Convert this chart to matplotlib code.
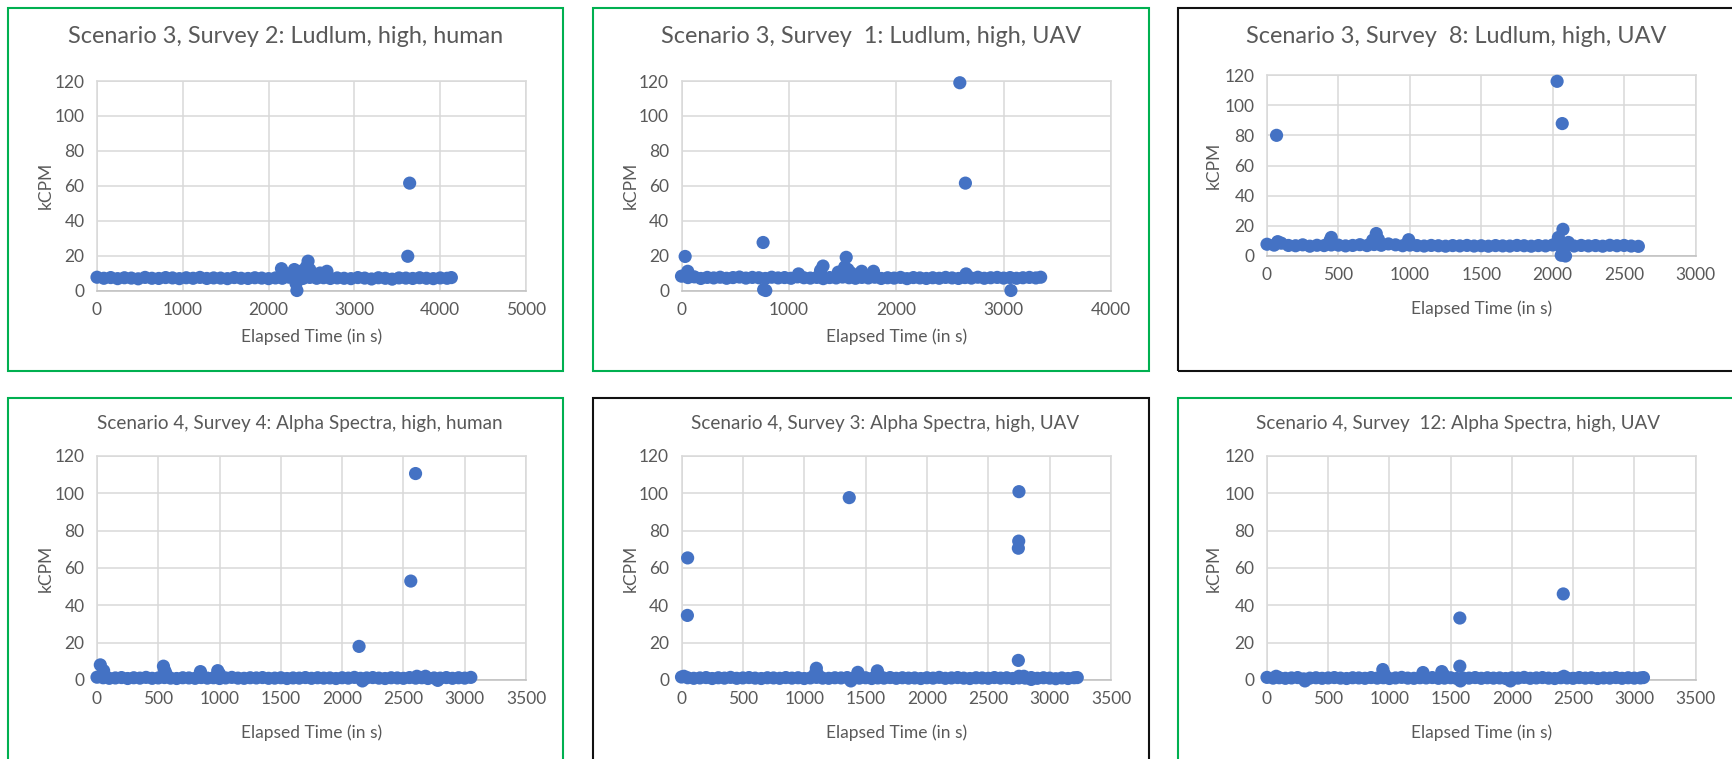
import matplotlib
matplotlib.use("Agg")
import matplotlib.pyplot as plt
from matplotlib.patches import Rectangle

# figure size in pixels
W, H = 1732, 759

plt.rcParams['font.family'] = ['Lato', 'DejaVu Sans']
TEXT = '#595959'
GRID = '#D9D9D9'
BLUE = '#4472C4'

# ---------------- data (elapsed time in s, kCPM) ----------------
titles = [
    'Scenario 3, Survey 2: Ludlum, high, human',
    'Scenario 3, Survey  1: Ludlum, high, UAV',
    'Scenario 3, Survey  8: Ludlum, high, UAV',
    'Scenario 4, Survey 4: Alpha Spectra, high, human',
    'Scenario 4, Survey 3: Alpha Spectra, high, UAV',
    'Scenario 4, Survey  12: Alpha Spectra, high, UAV',
]
x_max = [5000, 4000, 3000, 3500, 3500, 3500]
x_step = [1000, 1000, 500, 500, 500, 500]

# panel 1: Ludlum, human
p1_base_x = [0, 80, 160, 240, 320, 400, 480, 560, 640, 720, 800, 880, 960, 1040,
             1120, 1200, 1280, 1360, 1440, 1520, 1600, 1680, 1760, 1840, 1920, 2000,
             2080, 2160, 2240, 2320, 2400, 2480, 2560, 2640, 2720, 2800, 2880, 2960,
             3040, 3120, 3200, 3280, 3360, 3440, 3520, 3600, 3680, 3760, 3840, 3920,
             4000, 4080, 4130]
p1_base_y = [7.6, 7.0, 7.4, 6.8, 7.3, 7.1, 6.7, 7.5, 7.0, 6.9,
             7.4, 7.2, 6.8, 7.3, 7.0, 7.5, 6.9, 7.2, 7.1, 6.8,
             7.4, 7.0, 6.9, 7.3, 7.1, 6.8, 7.2, 7.0, 7.6, 7.2,
             6.9, 7.5, 7.0, 7.3, 6.9, 7.2, 7.0, 6.8, 7.4, 7.1,
             6.6, 7.3, 7.0, 6.5, 7.2, 7.1, 6.9, 7.3, 7.0, 6.8,
             7.2, 7.0, 7.4]
p1_peak_x = [2150, 2190, 2230, 2300, 2320, 2330, 2360, 2400, 2440, 2460, 2480, 2520,
             2600, 2680, 3622, 3644]
p1_peak_y = [12.5, 10.0, 9.0, 12.0, 4.0, 0.0, 9.5, 11.5, 13.5, 16.8, 12.0, 9.5,
             10.0, 11.0, 19.6, 61.5]

# panel 2: Ludlum, UAV survey 1
p2_base_x = [0, 60, 120, 180, 240, 300, 360, 420, 480, 540, 600, 660, 720, 780, 840,
             900, 960, 1020, 1080, 1140, 1200, 1260, 1320, 1380, 1440, 1500, 1560,
             1620, 1680, 1740, 1800, 1860, 1920, 1980, 2040, 2100, 2160, 2220, 2280,
             2340, 2400, 2460, 2520, 2580, 2640, 2700, 2760, 2820, 2880, 2940, 3000,
             3060, 3120, 3180, 3240, 3300, 3345]
p2_base_y = [8.2, 7.4, 7.8, 6.9, 7.5, 7.2, 7.6, 7.0, 7.4, 7.7,
             7.1, 7.5, 7.3, 6.9, 7.6, 7.2, 7.4, 7.0, 7.8, 7.3,
             7.1, 7.5, 6.8, 7.4, 7.2, 7.7, 7.3, 7.0, 7.5, 7.2,
             7.6, 6.9, 7.3, 7.1, 7.5, 6.8, 7.4, 7.2, 6.9, 7.3,
             7.0, 7.5, 7.2, 6.9, 7.4, 7.1, 7.6, 7.0, 7.3, 7.5,
             7.1, 7.4, 7.0, 7.3, 7.5, 7.2, 7.6]
p2_peak_x = [34, 58, 760, 765, 785, 1090, 1295, 1318, 1460, 1520, 1534, 1550, 1580,
             1678, 1788, 2592, 2644, 2650, 3068]
p2_peak_y = [19.5, 11.0, 27.5, 0.5, 0.0, 9.5, 11.5, 14.0, 10.5, 13.5, 19.0, 12.0, 10.0,
             11.0, 11.0, 119.0, 61.5, 9.5, 0.0]

# panel 3: Ludlum, UAV survey 8
p3_base_x = [0, 50, 100, 150, 200, 250, 300, 350, 400, 450, 500, 550, 600, 650, 700,
             750, 800, 850, 900, 950, 1000, 1050, 1100, 1150, 1200, 1250, 1300, 1350,
             1400, 1450, 1500, 1550, 1600, 1650, 1700, 1750, 1800, 1850, 1900, 1950,
             2000, 2050, 2100, 2150, 2200, 2250, 2300, 2350, 2400, 2450, 2500, 2550,
             2600]
p3_base_y = [7.8, 7.2, 8.5, 7.0, 6.8, 7.4, 6.5, 7.1, 6.9, 7.3,
             7.2, 6.7, 7.0, 7.5, 6.9, 7.6, 7.1, 8.0, 7.4, 6.8,
             7.2, 6.9, 6.6, 7.0, 6.8, 6.5, 6.9, 6.7, 7.0, 6.6,
             6.8, 6.5, 6.9, 6.7, 6.6, 7.0, 6.8, 6.5, 6.9, 6.7,
             7.3, 6.8, 7.2, 6.6, 7.0, 6.7, 6.9, 6.5, 7.1, 6.8,
             7.0, 6.6, 6.4]
p3_peak_x = [67, 75, 440, 450, 740, 765, 780, 992, 2031, 2040, 2060, 2067, 2072, 2090, 2110]
p3_peak_y = [80.0, 9.5, 10.0, 12.3, 10.5, 14.9, 11.0, 10.8, 115.8, 12.3, 0.5, 87.8, 17.7,
             0.0, 9.0]

# panel 4: Alpha Spectra, human
p4_base_x = [0, 50, 100, 150, 200, 250, 300, 350, 400, 450, 500, 550, 600, 650, 700,
             750, 800, 850, 900, 950, 1000, 1050, 1100, 1150, 1200, 1250, 1300, 1350,
             1400, 1450, 1500, 1550, 1600, 1650, 1700, 1750, 1800, 1850, 1900, 1950,
             2000, 2050, 2100, 2150, 2200, 2250, 2300, 2350, 2400, 2450, 2500, 2550,
             2600, 2650, 2700, 2750, 2800, 2850, 2900, 2950, 3000, 3050]
p4_base_y = [1.5, 1.2, 0.9, 1.1, 1.3, 0.8, 1.2, 1.0, 1.4, 0.9,
             1.1, 1.3, 1.0, 0.8, 1.2, 1.1, 0.9, 1.3, 1.0, 1.2,
             0.8, 1.1, 1.4, 1.0, 0.9, 1.2, 1.1, 1.3, 0.9, 1.0,
             1.2, 0.8, 1.1, 1.0, 1.3, 0.9, 1.2, 1.0, 1.1, 0.8,
             1.2, 1.0, 1.4, 0.9, 1.1, 1.3, 1.0, 0.8, 1.2, 1.1,
             0.9, 1.3, 1.0, 1.2, 0.8, 1.1, 1.0, 1.3, 0.9, 1.2,
             1.0, 1.4]
p4_peak_x = [27, 54, 542, 550, 560, 844, 985, 1000, 2138, 2165, 2560, 2599, 2610, 2680, 2780]
p4_peak_y = [8.1, 5.0, 7.4, 5.5, 4.0, 4.5, 5.0, 3.2, 18.0, -0.5, 53.0, 110.6, 2.0, 2.0, -0.2]

# panel 5: Alpha Spectra, UAV survey 3
p5_base_x = [0, 50, 100, 150, 200, 250, 300, 350, 400, 450, 500, 550, 600, 650, 700,
             750, 800, 850, 900, 950, 1000, 1050, 1100, 1150, 1200, 1250, 1300, 1350,
             1400, 1450, 1500, 1550, 1600, 1650, 1700, 1750, 1800, 1850, 1900, 1950,
             2000, 2050, 2100, 2150, 2200, 2250, 2300, 2350, 2400, 2450, 2500, 2550,
             2600, 2650, 2700, 2750, 2800, 2850, 2900, 2950, 3000, 3050, 3100, 3150,
             3200, 3225]
p5_base_y = [1.6, 1.2, 0.9, 1.1, 1.3, 0.8, 1.2, 1.0, 1.4, 0.9,
             1.1, 1.3, 1.0, 0.8, 1.2, 1.1, 0.9, 1.3, 1.0, 1.2,
             0.8, 1.1, 1.4, 1.0, 0.9, 1.2, 1.1, 1.3, 0.9, 1.0,
             1.2, 0.8, 1.1, 1.0, 1.3, 0.9, 1.2, 1.0, 1.1, 0.8,
             1.2, 1.0, 1.4, 0.9, 1.1, 1.3, 1.0, 0.8, 1.2, 1.1,
             0.9, 1.3, 1.0, 1.2, 0.8, 1.1, 1.0, 1.3, 0.9, 1.2,
             1.0, 0.7, 1.1, 0.8, 1.2, 1.3]
p5_peak_x = [20, 48, 50, 1090, 1099, 1110, 1367, 1380, 1437, 1596, 1610, 2745, 2745,
             2748, 2750, 2750, 2790, 2850]
p5_peak_y = [2.0, 34.6, 65.4, 3.5, 6.3, 3.0, 97.7, -0.5, 4.1, 4.9, 2.5, 10.5, 70.6,
             74.4, 100.9, 2.0, 2.0, 0.3]

# panel 6: Alpha Spectra, UAV survey 12
p6_base_x = [0, 50, 100, 150, 200, 250, 300, 350, 400, 450, 500, 550, 600, 650, 700,
             750, 800, 850, 900, 950, 1000, 1050, 1100, 1150, 1200, 1250, 1300, 1350,
             1400, 1450, 1500, 1550, 1600, 1650, 1700, 1750, 1800, 1850, 1900, 1950,
             2000, 2050, 2100, 2150, 2200, 2250, 2300, 2350, 2400, 2450, 2500, 2550,
             2600, 2650, 2700, 2750, 2800, 2850, 2900, 2950, 3000, 3050, 3075]
p6_base_y = [1.4, 1.0, 1.2, 0.9, 1.1, 1.3, 0.6, 1.0, 1.2, 0.9,
             1.1, 1.3, 1.0, 0.8, 1.2, 1.1, 0.9, 1.3, 1.0, 1.2,
             0.8, 1.1, 1.4, 1.0, 0.9, 1.2, 1.1, 1.3, 0.9, 1.0,
             1.2, 0.8, 1.1, 1.0, 1.3, 0.9, 1.2, 1.0, 1.1, 0.8,
             1.2, 1.0, 1.4, 0.9, 1.1, 1.3, 1.0, 0.8, 1.2, 1.1,
             0.9, 1.3, 1.0, 1.2, 0.8, 1.1, 1.0, 1.3, 0.9, 1.2,
             1.0, 1.1, 1.3]
p6_peak_x = [75, 310, 946, 960, 1274, 1428, 1440, 1575, 1575, 1580, 1988, 2420, 2425]
p6_peak_y = [2.0, -0.5, 5.6, 3.0, 4.0, 4.5, 3.0, 33.2, 7.4, -0.5, -0.5, 46.1, 2.0]

series = [
    (p1_base_x + p1_peak_x, p1_base_y + p1_peak_y),
    (p2_base_x + p2_peak_x, p2_base_y + p2_peak_y),
    (p3_base_x + p3_peak_x, p3_base_y + p3_peak_y),
    (p4_base_x + p4_peak_x, p4_base_y + p4_peak_y),
    (p5_base_x + p5_peak_x, p5_base_y + p5_peak_y),
    (p6_base_x + p6_peak_x, p6_base_y + p6_peak_y),
]

# ---------------- layout (pixels) ----------------
# plot area: left, top, right, bottom
plot_box = [(97, 81, 526, 290.5), (681.5, 81, 1111, 290.5), (1267, 75, 1695.5, 256),
            (97, 456, 526, 680), (681.5, 456, 1111, 680), (1267, 456, 1695.5, 680)]
frame_box = [(8, 8, 563, 371), (593, 8, 1149, 371), (1178, 8, 1745, 371),
             (8, 398, 563, 775), (593, 398, 1149, 775), (1178, 398, 1745, 775)]
frame_col = ['#00B050', '#00B050', '#111111', '#00B050', '#111111', '#00B050']
title_pos = [(286, 36.5), (871, 36.5), (1456, 36.5), (300, 423), (885, 423), (1458, 423)]
title_size = [16.9, 16.9, 16.9, 13.6, 13.6, 13.6]
xlab_y = [337, 337, 309, 733, 733, 733]
ylab_x = [46, 631, 1214, 46, 631, 1214]


def fx(px):
    return px / W


def fy(py):
    return 1 - py / H


fig = plt.figure(figsize=(W / 100, H / 100), dpi=100)

for i in range(6):
    l, t, r, b = plot_box[i]
    ax = fig.add_axes([fx(l), fy(b), fx(r) - fx(l), fy(t) - fy(b)])
    xs, ys = series[i]
    ax.scatter(xs, ys, s=90, color=BLUE, edgecolors='none', zorder=3, clip_on=False)
    ax.set_xlim(0, x_max[i])
    ax.set_ylim(0, 120)
    ax.set_xticks(range(0, x_max[i] + 1, x_step[i]))
    ax.set_yticks(range(0, 121, 20))
    ax.grid(True, color=GRID, linewidth=1.1, zorder=0)
    ax.set_axisbelow(True)
    for side in ['top', 'right', 'left']:
        ax.spines[side].set_color(GRID)
        ax.spines[side].set_linewidth(1.1)
    ax.spines['bottom'].set_color('#BFBFBF')
    ax.spines['bottom'].set_linewidth(1.1)
    ax.tick_params(length=0, labelsize=12.5, labelcolor=TEXT)
    ax.tick_params(axis='x', pad=8)
    ax.tick_params(axis='y', pad=9)

    # chart border
    fl, ft, fr, fb = frame_box[i]
    fig.add_artist(Rectangle((fx(fl), fy(fb)), fx(fr) - fx(fl), fy(ft) - fy(fb),
                             transform=fig.transFigure, fill=False,
                             edgecolor=frame_col[i], linewidth=1.5))

    tx, ty = title_pos[i]
    fig.text(fx(tx), fy(ty), titles[i], ha='center', va='center',
             fontsize=title_size[i], color=TEXT)
    fig.text(fx((l + r) / 2), fy(xlab_y[i]), 'Elapsed Time (in s)', ha='center',
             va='center', fontsize=12.5, color=TEXT)
    fig.text(fx(ylab_x[i]), fy((t + b) / 2), 'kCPM', ha='center', va='center',
             rotation=90, fontsize=12.5, color=TEXT)

fig.savefig('out.png', dpi=100)
